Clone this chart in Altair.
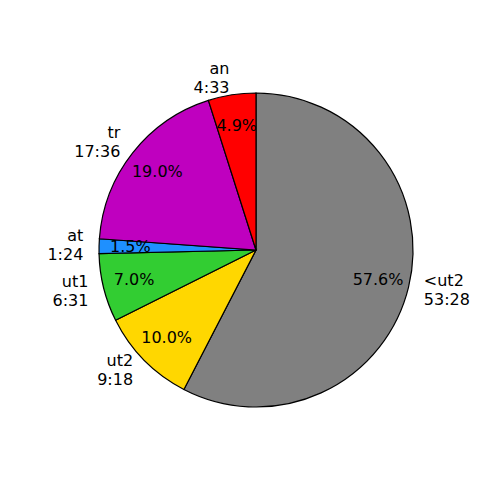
import altair as alt
import pandas as pd

# clockwise from 12 o'clock
names = ["<ut2", "ut2", "ut1", "at", "tr", "an"]
times = ["53:28", "9:18", "6:31", "1:24", "17:36", "4:33"]
colors = ["#808080", "#FFD700", "#32CD32", "#1E90FF", "#BF00BF", "#FF0000"]

secs = [int(t.split(":")[0]) * 60 + int(t.split(":")[1]) for t in times]
df = pd.DataFrame({"name": names, "time": times, "secs": secs})

R = 157
FONT = "DejaVu Sans"
CX, CY = 248, 242

base = alt.Chart(df).transform_window(
    idx="row_number()"
).transform_joinaggregate(
    total="sum(secs)"
).transform_window(
    cum="sum(secs)", sort=[alt.SortField("idx")], frame=[None, 0]
).transform_calculate(
    frac="datum.secs / datum.total",
    mid="(datum.cum - datum.secs / 2) / datum.total",
    label="datum.name + '\\n' + datum.time",
)

arcs = base.mark_arc(radius=R, stroke="black", strokeWidth=1.2).encode(
    theta=alt.Theta("secs:Q", stack=True),
    order=alt.Order("idx:Q"),
    color=alt.Color("name:N", scale=alt.Scale(domain=names, range=colors), legend=None),
    x=alt.value(CX), y=alt.value(CY),
)

tscale = alt.Scale(domain=[0, 1], range=[0, 6.283185307179586])

pct = base.mark_text(radius=R * 0.8, font=FONT, fontSize=16, color="black",
                     align="center", baseline="middle").encode(
    theta=alt.Theta("mid:Q", stack=False, scale=tscale),
    text=alt.Text("frac:Q", format=".1%"),
    x=alt.value(CX), y=alt.value(CY),
)

lab_right = base.transform_filter("datum.mid < 0.5").mark_text(
    radius=R * 1.1, font=FONT, fontSize=16, color="black",
    align="left", baseline="middle", lineBreak="\n", lineHeight=19, dy=-10,
).encode(
    theta=alt.Theta("mid:Q", stack=False, scale=tscale),
    text="label:N",
    x=alt.value(CX), y=alt.value(CY),
)

lab_left = base.transform_filter("datum.mid >= 0.5").mark_text(
    radius=R * 1.1, font=FONT, fontSize=16, color="black",
    align="right", baseline="middle", lineBreak="\n", lineHeight=19, dy=-10,
).encode(
    theta=alt.Theta("mid:Q", stack=False, scale=tscale),
    text="label:N",
    x=alt.value(CX), y=alt.value(CY),
)

chart = alt.layer(arcs, pct, lab_right, lab_left).resolve_scale(
    theta="independent"
).properties(
    width=484, height=484, padding=0, autosize=alt.AutoSizeParams(type="none")
).configure_view(stroke=None)

chart.save("out.html", embed_options={"renderer": "svg", "actions": False})
